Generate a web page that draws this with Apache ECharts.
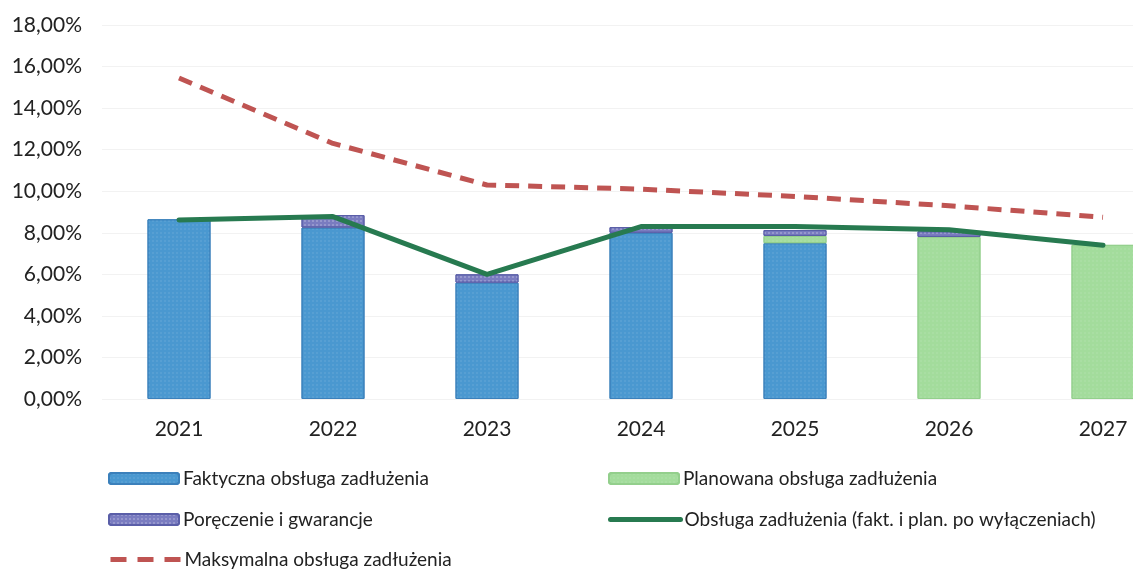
<!DOCTYPE html>
<html>
<head>
<meta charset="utf-8">
<script src="https://cdn.jsdelivr.net/npm/echarts@6/dist/echarts.min.js"></script>
<style>
  html, body { margin: 0; padding: 0; background: #fff; }
  #chart { width: 1133px; height: 569px; }
</style>
</head>
<body>
<div id="chart"></div>
<script>
const years = ["2021", "2022", "2023", "2024", "2025", "2026", "2027"];
const faktyczna = [8.65, 8.25, 5.6, 8.0, 7.5, "-", "-"];
const planowana = ["-", "-", "-", "-", 0.35, 7.8, 7.42];
const poreczenie = ["-", 0.6, 0.4, 0.27, 0.28, 0.27, "-"];
const obsluga = [8.62, 8.78, 6.0, 8.3, 8.3, 8.15, 7.4];
const maksymalna = [15.45, 12.3, 10.3, 10.1, 9.75, 9.3, 8.75];

const names = [
  "Faktyczna obsługa zadłużenia",
  "Planowana obsługa zadłużenia",
  "Poręczenie i gwarancje",
  "Obsługa zadłużenia (fakt. i plan. po wyłączeniach)",
  "Maksymalna obsługa zadłużenia"
];

const font = "Lato";
const chart = echarts.init(document.getElementById("chart"));

// one legend per entry so they sit in the two-column layout
const legendAt = (name, left, top, line) => ({
  data: [line ? { name, itemStyle: { opacity: 0 } } : name],
  left,
  top,
  padding: 0,
  itemWidth: 70,
  itemHeight: 11,
  itemGap: 0,
  lineStyle: line ? { width: 5, type: line } : undefined,
  textStyle: { fontFamily: font, fontSize: 19, color: "#222", padding: [0, 0, 0, -1] }
});

const dots = color => ({
  symbol: "rect",
  symbolSize: 0.6,
  color,
  dashArrayX: [2, 2],
  dashArrayY: [2, 2]
});

chart.setOption({
  animation: false,
  grid: { left: 102, width: 1078, top: 25, bottom: 170, outerBoundsMode: "none" },
  legend: [
    legendAt(names[0], 108, 469),
    legendAt(names[1], 608, 469),
    legendAt(names[2], 108, 510),
    legendAt(names[3], 608, 510, "solid"),
    legendAt(names[4], 108, 550, [16, 11])
  ],
  xAxis: {
    type: "category",
    data: years,
    axisLine: { show: false },
    axisTick: { show: false },
    axisLabel: { fontFamily: font, fontSize: 21, color: "#222", margin: 20 }
  },
  yAxis: {
    type: "value",
    min: 0,
    max: 18,
    interval: 2,
    axisLine: { show: false },
    axisTick: { show: false },
    splitLine: { lineStyle: { color: "#f2f2f2" } },
    axisLabel: {
      fontFamily: font,
      fontSize: 21,
      color: "#222",
      margin: 20,
      formatter: v => v.toFixed(2).replace(".", ",") + "%"
    }
  },
  series: [
    {
      name: names[0],
      type: "bar",
      stack: "a",
      barWidth: 63,
      data: faktyczna,
      itemStyle: { color: "#4a98d0", borderColor: "#3b80bb", borderWidth: 1, decal: dots("rgba(255,255,255,0.25)") }
    },
    {
      name: names[1],
      type: "bar",
      stack: "a",
      data: planowana,
      itemStyle: { color: "#a3dc9c", borderColor: "#93cf8c", borderWidth: 1, decal: dots("rgba(255,255,255,0.25)") }
    },
    {
      name: names[2],
      type: "bar",
      stack: "a",
      data: poreczenie,
      itemStyle: { color: "#7a7cc0", borderColor: "#5a5ea8", borderWidth: 1, decal: dots("rgba(255,255,255,0.7)") }
    },
    {
      name: names[3],
      type: "line",
      data: obsluga,
      symbol: "none",
      lineStyle: { color: "#277a50", width: 5, cap: "round" },
      itemStyle: { color: "#277a50" }
    },
    {
      name: names[4],
      type: "line",
      data: maksymalna,
      symbol: "none",
      lineStyle: { color: "#bf5452", width: 5, type: [14, 9] },
      itemStyle: { color: "#bf5452" }
    }
  ]
});
</script>
</body>
</html>
